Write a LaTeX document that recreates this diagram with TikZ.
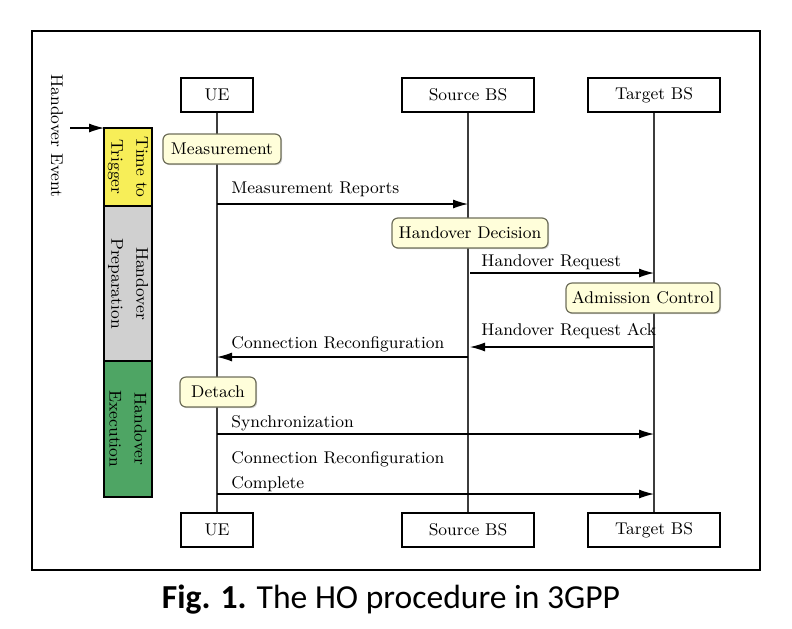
\documentclass[tikz,border=0pt]{standalone}
\usepackage{fontspec}
\newfontfamily\capfont{Carlito}
\usepackage{xcolor}
\usepackage{tikz}
\usetikzlibrary{positioning}
\usetikzlibrary{arrows.meta}
\usetikzlibrary{shadows}

\definecolor{phaseyellow}{RGB}{247,238,88}
\definecolor{phasegray}{RGB}{208,208,208}
\definecolor{phasegreen}{RGB}{78,165,100}
\definecolor{notefill}{RGB}{255,254,218}
\definecolor{notedraw}{RGB}{110,110,90}
\definecolor{lifegray}{RGB}{60,60,60}

\newcommand{\diafont}{\fontsize{8.5}{12.5}\selectfont}

\tikzset{
    actor/.style = {draw, line width=0.8pt, minimum width=#1, minimum height=17pt, inner sep=0pt, font=\diafont},
    note/.style = {draw=notedraw, fill=notefill, rounded corners=3pt, line width=0.6pt, minimum width=#1, minimum height=15pt, inner sep=0pt, font=\diafont,
        drop shadow={shadow xshift=0.6pt, shadow yshift=-0.6pt, opacity=0.35}},
    phase/.style = {draw, line width=0.6pt, fill=#1, rotate=-90, minimum height=24pt, inner sep=0pt, align=center, font=\diafont},
    msg/.style = {line width=0.55pt, -{Latex[length=7.5pt, width=4.5pt]}},
    life/.style = {draw=lifegray, line width=0.6pt},
    lbl/.style = {anchor=base west, inner sep=0pt, font=\diafont, align=left}
}

\begin{document}
\begin{tikzpicture}[x=0.5pt, y=-0.5pt]
    \useasboundingbox (0, 0) rectangle (792, 628);
    \draw[line width=1pt] (32, 31) rectangle (760, 570);

    % actors, top and bottom
    \node[actor=36pt] (ue) at (217, 95) {UE};
    \node[actor=66pt] (src) at (468, 95) {Source BS};
    \node[actor=66pt] (tgt) at (654, 95) {Target BS};
    \node[actor=36pt] (ue2) at (217, 530) {UE};
    \node[actor=66pt] (src2) at (468, 530) {Source BS};
    \node[actor=66pt] (tgt2) at (654, 530) {Target BS};

    \draw[life] (ue.south) -- (ue2.north);
    \draw[life] (src.south) -- (src2.north);
    \draw[life] (tgt.south) -- (tgt2.north);

    % phases
    \node[rotate=-90, font=\diafont] (event) at (57, 136) {Handover Event};
    \coordinate (evstart) at (70, 128);
    \coordinate (evend) at (104, 128);
    \draw[msg] (evstart) -- (evend);
    \node[phase=phaseyellow, minimum width=39pt] (ttt) at (128, 167) {Time to\\Trigger};
    \node[phase=phasegray, minimum width=77.5pt] (prep) at (128, 283.5) {Handover\\Preparation};
    \node[phase=phasegreen, minimum width=68pt] (exec) at (128, 429) {Handover\\Execution};

    % local actions
    \node[note=59pt] (meas) at (222, 149) {Measurement};
    \node[note=78pt] (dec) at (470, 233) {Handover Decision};
    \node[note=77pt] (adm) at (643, 298) {Admission Control};
    \node[note=38pt] (det) at (218, 392) {Detach};

    % messages
    \coordinate (m1a) at (217, 204); \coordinate (m1b) at (468, 204);
    \draw[msg] (m1a) -- (m1b);
    \node[lbl] (l1) at (231, 193) {Measurement Reports};

    \coordinate (m2a) at (470, 273); \coordinate (m2b) at (654, 273);
    \draw[msg] (m2a) -- (m2b);
    \node[lbl] (l2) at (481, 266) {Handover Request};

    \coordinate (m3a) at (653, 347); \coordinate (m3b) at (470, 347);
    \draw[msg] (m3a) -- (m3b);
    \node[lbl] (l3) at (481, 335) {Handover Request Ack};

    \coordinate (m4a) at (468, 357); \coordinate (m4b) at (217, 357);
    \draw[msg] (m4a) -- (m4b);
    \node[lbl] (l4) at (231, 348) {Connection Reconfiguration};

    \coordinate (m5a) at (217, 434); \coordinate (m5b) at (654, 434);
    \draw[msg] (m5a) -- (m5b);
    \node[lbl] (l5) at (231, 427) {Synchronization};

    \coordinate (m6a) at (217, 494); \coordinate (m6b) at (654, 494);
    \draw[msg] (m6a) -- (m6b);
    \node[lbl] (l6) at (231, 488) {Connection Reconfiguration\\Complete};

    \node[font=\capfont\fontsize{16.8}{20}\selectfont] (cap) at (391, 600) {\textbf{Fig. 1.} The HO procedure in 3GPP};
\end{tikzpicture}
\end{document}
